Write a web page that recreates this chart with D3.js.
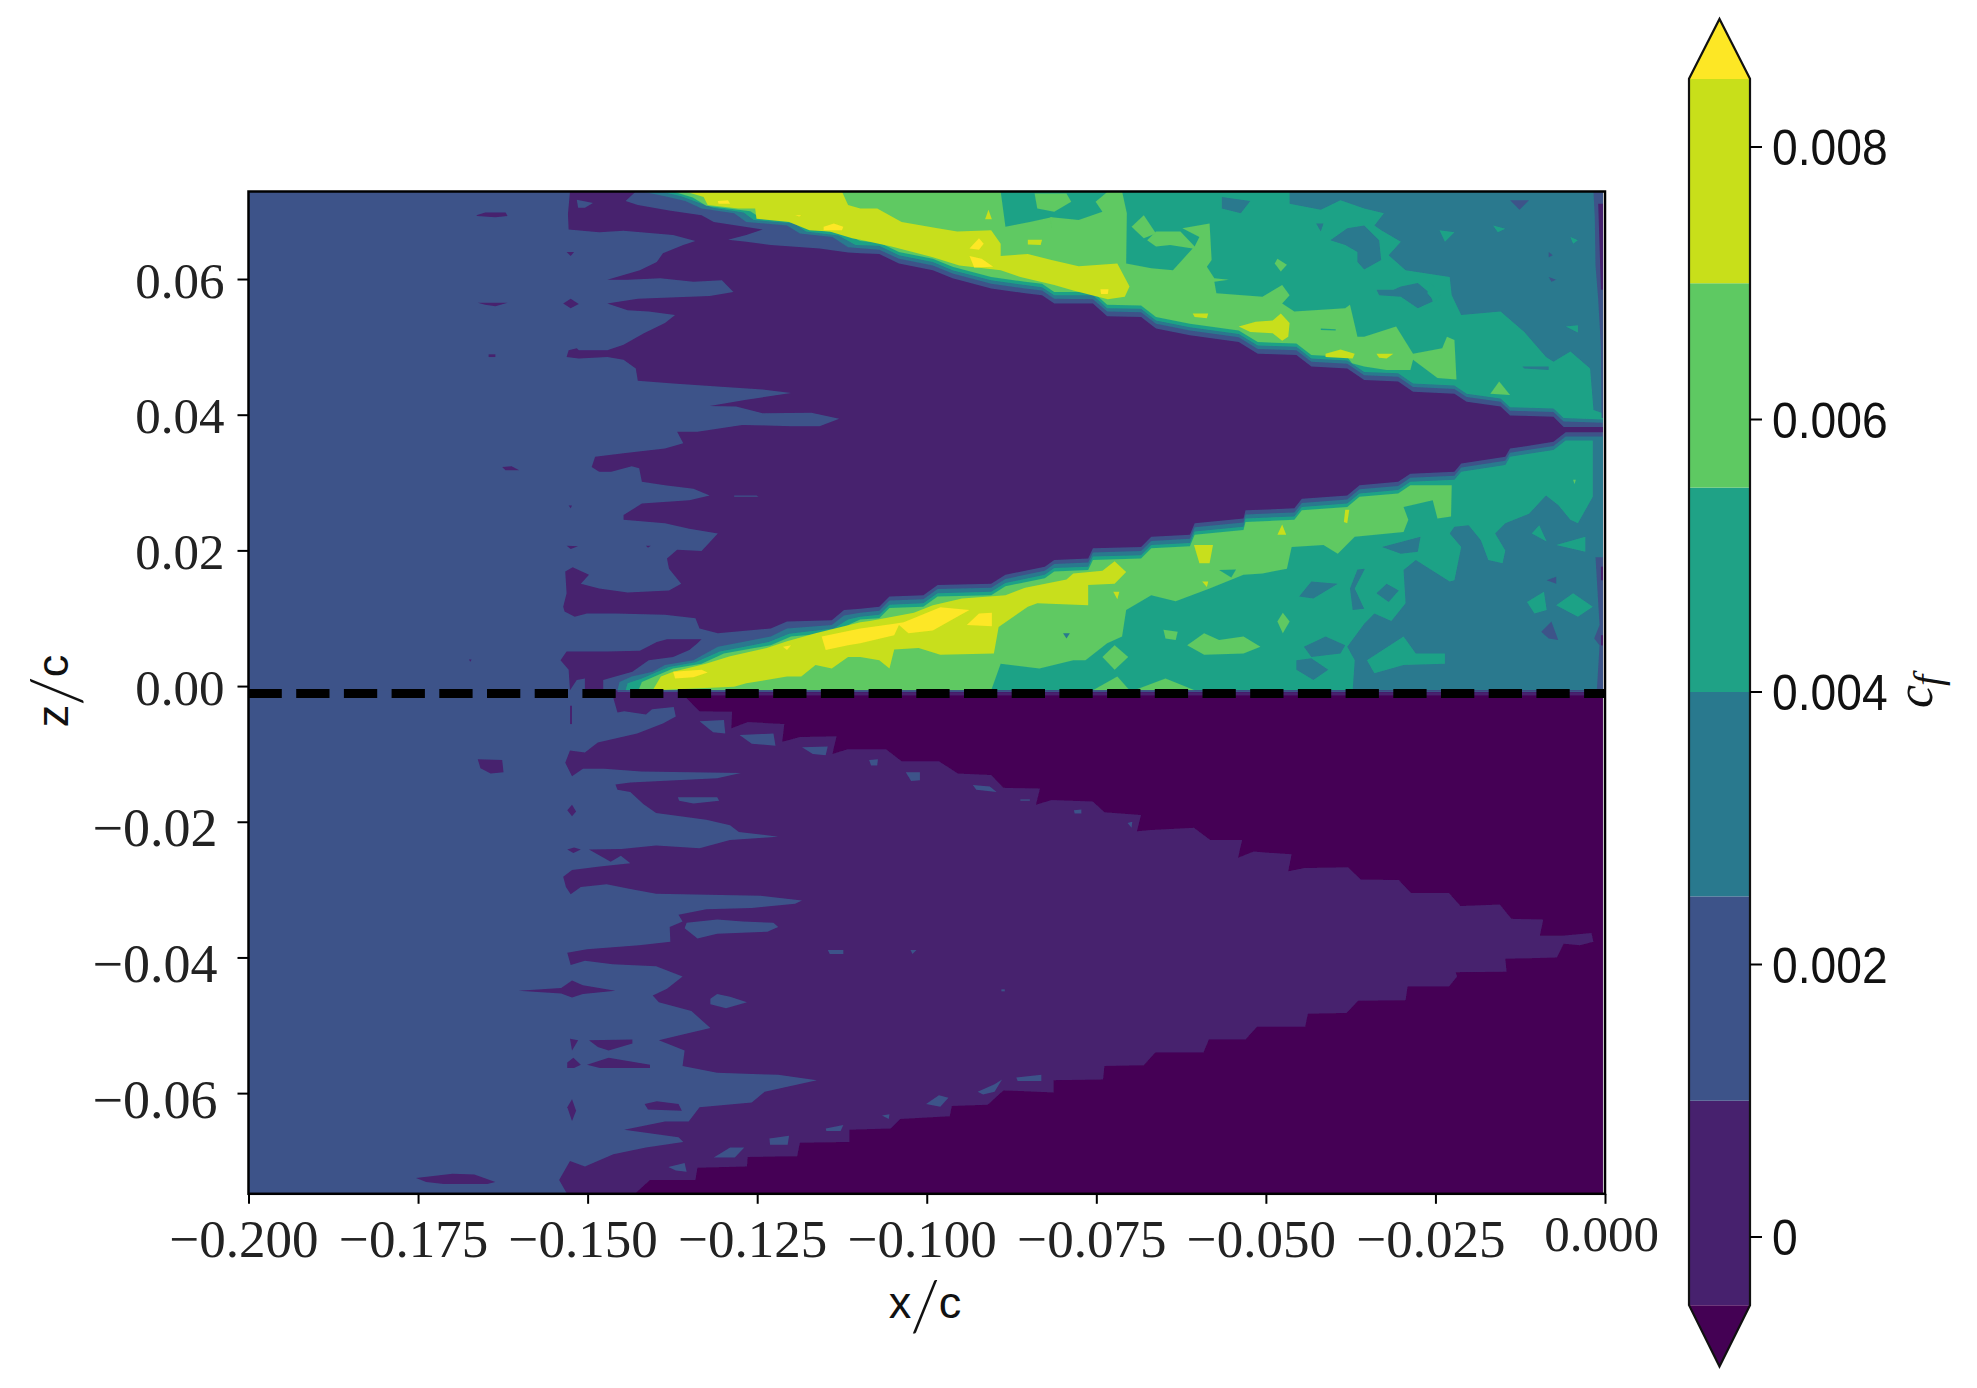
<!DOCTYPE html>
<html><head><meta charset="utf-8">
<script src="https://cdn.jsdelivr.net/npm/d3@7"></script>
<style>html,body{margin:0;padding:0;background:#fff}svg{display:block}</style>
</head><body><svg id="c" width="1977" height="1388"></svg>
<script>
const xTicks=[-0.2,-0.175,-0.15,-0.125,-0.1,-0.075,-0.05,-0.025,0];
const zTicks=[0.06,0.04,0.02,0,-0.02,-0.04,-0.06];
const levels=[-0.0005,0.001,0.0025,0.004,0.0055,0.007,0.0085];
const cbTicks=[0,0.002,0.004,0.006,0.008];
const cbTipLow=-0.00095, cbTipHigh=0.00894;
const COL={dark:"#440154",purple:"#47216e",blue:"#3d5389",teal:"#29798e",mint:"#1fa286",green:"#5ec962",lime:"#c8df1a",yellow:"#fde725"};
const bandColors=[COL.purple,COL.blue,COL.teal,COL.mint,COL.green,COL.lime];
const wallZ=-0.0011;

/* ===== lower half (z<0) ===== */
const lowerBase=[[-0.2,-0.0005],[-0.0003,-0.0005],[-0.0003,-0.0749],[-0.2,-0.0749]];
const lowerPurple=[[-.1462,-.0005],[-.1354,-.0005],[-.1354,-.0018],[-.1335,-.0037],[-.1287,-.0038],[-.1288,-.0062],[-.1264,-.0053],[-.1210,-.0056],[-.1213,-.0082],[-.1187,-.0075],[-.1133,-.0074],[-.1139,-.0100],[-.1117,-.0093],[-.1060,-.0093],[-.1037,-.0111],[-.0982,-.0111],[-.0954,-.0129],[-.0905,-.0131],[-.0887,-.0150],[-.0833,-.0151],[-.0839,-.0175],[-.0816,-.0168],[-.0755,-.0170],[-.0738,-.0186],[-.0684,-.0190],[-.0690,-.0214],[-.0670,-.0212],[-.0606,-.0209],[-.0582,-.0227],[-.0535,-.0227],[-.0541,-.0253],[-.0518,-.0244],[-.0462,-.0248],[-.0467,-.0273],[-.0443,-.0268],[-.0379,-.0267],[-.0360,-.0285],[-.0304,-.0286],[-.0286,-.0305],[-.0230,-.0305],[-.0213,-.0324],[-.0155,-.0322],[-.0138,-.0343],[-.0091,-.0344],[-.0096,-.0368],[-.0064,-.0368],[-.0020,-.0364],[-.0017,-.0377],[-.0037,-.0382],[-.0061,-.0380],[-.0071,-.0400],[-.0147,-.0402],[-.0145,-.0421],[-.0220,-.0422],[-.0218,-.0428],[-.0230,-.0443],[-.0291,-.0443],[-.0294,-.0463],[-.0364,-.0464],[-.0381,-.0482],[-.0438,-.0483],[-.0442,-.0502],[-.0513,-.0502],[-.0530,-.0521],[-.0584,-.0521],[-.0592,-.0540],[-.0663,-.0540],[-.0680,-.0559],[-.0738,-.0560],[-.0740,-.0580],[-.0813,-.0581],[-.0813,-.0599],[-.0887,-.0596],[-.0910,-.0617],[-.0963,-.0619],[-.0966,-.0634],[-.1039,-.0638],[-.1053,-.0652],[-.1114,-.0654],[-.1114,-.0672],[-.1187,-.0673],[-.1191,-.0693],[-.1264,-.0694],[-.1265,-.0708],[-.1338,-.0710],[-.1341,-.0728],[-.1408,-.0728],[-.1431,-.0749],[-.1560,-.0749],[-.1560,-.0005]];
const lowerBlueIslands=[
[[-.1367,-.0164],[-.1309,-.0164],[-.1306,-.0169],[-.1344,-.0173],[-.1365,-.0169]],
[[-.1354,-.0349],[-.1309,-.0344],[-.1271,-.0347],[-.1226,-.0349],[-.1219,-.0355],[-.1235,-.0362],[-.1309,-.0365],[-.1338,-.0372],[-.1357,-.0357]],
[[-.1146,-.0389],[-.1123,-.0389],[-.1123,-.0395],[-.1143,-.0395]],
[[-.1024,-.0389],[-.1015,-.0389],[-.1021,-.0395]],
[[-.1319,-.0461],[-.1309,-.0454],[-.1290,-.0458],[-.1265,-.0466],[-.1296,-.0475],[-.1319,-.0469]],
[[-.1335,-.0052],[-.1299,-.0050],[-.1297,-.0070],[-.1315,-.0068]],
[[-.1276,-.0072],[-.1226,-.0070],[-.1223,-.0088],[-.1258,-.0085]],
[[-.1184,-.0090],[-.1146,-.0089],[-.1149,-.0102],[-.1168,-.0100]],
[[-.1085,-.0109],[-.1072,-.0108],[-.1073,-.0117],[-.1082,-.0117]],
[[-.1031,-.0127],[-.1010,-.0127],[-.1010,-.0139],[-.1023,-.0140]],
[[-.1066,-.0633],[-.1055,-.0631],[-.1056,-.0638]],
[[-.1149,-.0652],[-.1123,-.0647],[-.1127,-.0656],[-.1148,-.0656]],
[[-.1232,-.0667],[-.1203,-.0663],[-.1205,-.0676],[-.1231,-.0676]],
[[-.1314,-.0695],[-.1290,-.0680],[-.1269,-.0680],[-.1283,-.0695]],
[[-.1381,-.0709],[-.1357,-.0703],[-.1354,-.0716],[-.1370,-.0714]],
[[-.0932,-.0146],[-.0907,-.0148],[-.0897,-.0156],[-.0927,-.0153]],
[[-.0862,-.0167],[-.0848,-.0167],[-.0848,-.0169],[-.0862,-.0169]],
[[-.0783,-.0183],[-.0772,-.0182],[-.0772,-.0188],[-.0782,-.0188]],
[[-.0704,-.0202],[-.0697,-.0200],[-.0698,-.0209]],
[[-.0890,-.0447],[-.0885,-.0447],[-.0885,-.0450],[-.0890,-.0450]],
[[-.1001,-.0616],[-.0982,-.0603],[-.0968,-.0607],[-.0980,-.0620]],
[[-.0925,-.0598],[-.0900,-.0587],[-.0889,-.0580],[-.0900,-.0598],[-.0917,-.0602]],
[[-.0868,-.0577],[-.0831,-.0573],[-.0831,-.0582],[-.0866,-.0582]]];
const lowerBlue=[[-.2,-.0005],[-.1462,-.0005],[-.1462,-.0018],[-.1456,-.0039],[-.1446,-.0037],[-.1414,-.0042],[-.1405,-.0034],[-.1373,-.0031],[-.1370,-.0045],[-.1389,-.0055],[-.1427,-.0070],[-.1485,-.0083],[-.1504,-.0098],[-.1526,-.0095],[-.1533,-.0113],[-.1523,-.0133],[-.1507,-.0122],[-.1475,-.0122],[-.1421,-.0126],[-.1274,-.0128],[-.1309,-.0136],[-.1392,-.0140],[-.1437,-.0142],[-.1459,-.0145],[-.1456,-.0153],[-.1437,-.0156],[-.1418,-.0174],[-.1399,-.0187],[-.1325,-.0197],[-.1290,-.0205],[-.1277,-.0215],[-.1219,-.0222],[-.1290,-.0227],[-.1335,-.0239],[-.1399,-.0235],[-.1450,-.0240],[-.1498,-.0241],[-.1466,-.0259],[-.1451,-.0250],[-.1437,-.0261],[-.1482,-.0266],[-.1523,-.0271],[-.1536,-.0281],[-.1532,-.0296],[-.1525,-.0307],[-.1510,-.0296],[-.1472,-.0292],[-.1437,-.0299],[-.1399,-.0306],[-.1245,-.0309],[-.1184,-.0316],[-.1194,-.0321],[-.1258,-.0327],[-.1325,-.0329],[-.1366,-.0337],[-.1360,-.0347],[-.1379,-.0355],[-.1378,-.0377],[-.1424,-.0382],[-.1501,-.0388],[-.1530,-.0393],[-.1525,-.0411],[-.1504,-.0405],[-.1463,-.0410],[-.1399,-.0413],[-.1360,-.0428],[-.1383,-.0446],[-.1404,-.0456],[-.1395,-.0466],[-.1347,-.0479],[-.1319,-.0504],[-.1366,-.0515],[-.1395,-.0522],[-.1357,-.0537],[-.1360,-.0560],[-.1309,-.0570],[-.1219,-.0573],[-.1162,-.0581],[-.1239,-.0598],[-.1258,-.0614],[-.1335,-.0621],[-.1351,-.0642],[-.1386,-.0642],[-.1446,-.0654],[-.1366,-.0665],[-.1359,-.0672],[-.1414,-.0680],[-.1462,-.0690],[-.1504,-.0708],[-.1526,-.0700],[-.1542,-.0728],[-.1530,-.0749],[-.2,-.0749]];
const lowerPurpleIslands=[
[[-.1662,-.0108],[-.1626,-.0109],[-.1624,-.0127],[-.1643,-.0129],[-.1658,-.0121]],
[[-.1530,-.0183],[-.1523,-.0175],[-.1517,-.0185],[-.1523,-.0192]],
[[-.1530,-.0241],[-.1520,-.0238],[-.1510,-.0241],[-.1521,-.0246]],
[[-.1526,-.0029],[-.1523,-.0029],[-.1523,-.0056],[-.1526,-.0056]],
[[-.1602,-.0449],[-.1539,-.0445],[-.1523,-.0434],[-.1507,-.0441],[-.1459,-.0449],[-.1507,-.0454],[-.1523,-.0459],[-.1539,-.0453]],
[[-.1526,-.0520],[-.1514,-.0522],[-.1523,-.0537]],
[[-.1498,-.0522],[-.1434,-.0521],[-.1434,-.0527],[-.1469,-.0537],[-.1485,-.0532]],
[[-.1530,-.0555],[-.1521,-.0548],[-.1510,-.0558],[-.1520,-.0563],[-.1530,-.0563]],
[[-.1501,-.0558],[-.1469,-.0548],[-.1408,-.0558],[-.1408,-.0563],[-.1482,-.0563]],
[[-.1530,-.0621],[-.1523,-.0609],[-.1517,-.0626],[-.1523,-.0641]],
[[-.1416,-.0616],[-.1398,-.0612],[-.1366,-.0616],[-.1361,-.0626],[-.1411,-.0624]],
[[-.1753,-.0725],[-.1699,-.0719],[-.1667,-.0720],[-.1636,-.0731],[-.1648,-.0734],[-.1712,-.0734],[-.1738,-.0731]]];

/* ===== upper half (z>0) ===== */
const upperBase=[[-0.2,0.0729],[-0.0003,0.0729],[-0.0003,-0.0006],[-0.2,-0.0006]];
const upperPurple=[[-.1526,.0729],[-.1429,.0729],[-.1444,.0715],[-.1426,.0709],[-.1380,.0701],[-.1332,.0694],[-.1314,.0684],[-.1242,.0673],[-.1266,.0665],[-.1293,.0658],[-.1266,.0655],[-.1230,.0650],[-.1158,.0645],[-.1116,.0639],[-.1098,.0638],[-.1070,.0637],[-.1041,.0623],[-.0991,.0613],[-.0962,.0601],[-.0905,.0586],[-.0855,.0579],[-.0830,.0576],[-.0812,.0564],[-.0755,.0564],[-.0734,.0545],[-.0684,.0544],[-.0662,.0527],[-.0612,.0517],[-.0540,.0507],[-.0512,.0490],[-.0455,.0488],[-.0433,.0471],[-.0380,.0468],[-.0355,.0451],[-.0305,.0449],[-.0283,.0434],[-.0222,.0431],[-.0204,.0419],[-.0154,.0412],[-.0140,.0399],[-.0076,.0397],[-.0061,.0382],[-.0003,.0382],[-.0003,.0374],[-.0058,.0374],[-.0076,.0360],[-.0140,.0350],[-.0147,.0338],[-.0212,.0328],[-.0222,.0316],[-.0287,.0313],[-.0305,.0301],[-.0362,.0296],[-.0380,.0281],[-.0447,.0276],[-.0458,.0262],[-.0530,.0259],[-.0533,.0247],[-.0605,.0240],[-.0612,.0223],[-.0669,.0220],[-.0684,.0205],[-.0755,.0203],[-.0762,.0188],[-.0812,.0186],[-.0826,.0176],[-.0884,.0164],[-.0905,.0151],[-.0984,.0149],[-.1005,.0134],[-.1055,.0132],[-.1070,.0117],[-.1098,.0114],[-.1122,.0112],[-.1140,.0097],[-.1206,.0095],[-.1230,.0085],[-.1308,.0078],[-.1335,.0085],[-.1341,.0100],[-.1386,.0105],[-.1459,.0107],[-.1501,.0107],[-.1519,.0102],[-.1534,.0110],[-.1536,.0117],[-.1531,.0137],[-.1533,.0169],[-.1522,.0175],[-.1498,.0164],[-.1510,.0151],[-.1483,.0144],[-.1441,.0138],[-.1380,.0141],[-.1362,.0151],[-.1380,.0173],[-.1383,.0188],[-.1368,.0201],[-.1332,.0199],[-.1308,.0225],[-.1350,.0232],[-.1386,.0240],[-.1447,.0245],[-.1447,.0252],[-.1420,.0269],[-.1350,.0274],[-.1320,.0281],[-.1344,.0291],[-.1386,.0296],[-.1420,.0301],[-.1424,.0321],[-.1435,.0324],[-.1465,.0316],[-.1483,.0316],[-.1494,.0323],[-.1489,.0338],[-.1447,.0343],[-.1386,.0350],[-.1359,.0358],[-.1368,.0375],[-.1338,.0375],[-.1272,.0385],[-.1200,.0383],[-.1158,.0383],[-.1129,.0394],[-.1170,.0403],[-.1242,.0402],[-.1281,.0412],[-.1320,.0413],[-.1266,.0422],[-.1200,.0432],[-.1242,.0437],[-.1314,.0442],[-.1374,.0446],[-.1426,.0450],[-.1429,.0468],[-.1447,.0481],[-.1471,.0485],[-.1513,.0483],[-.1531,.0485],[-.1528,.0495],[-.1516,.0498],[-.1513,.0495],[-.1471,.0495],[-.1447,.0503],[-.1417,.0520],[-.1386,.0535],[-.1371,.0547],[-.1410,.0552],[-.1441,.0554],[-.1471,.0564],[-.1426,.0571],[-.1320,.0575],[-.1285,.0581],[-.1302,.0598],[-.1344,.0596],[-.1393,.0601],[-.1441,.0599],[-.1471,.0599],[-.1423,.0613],[-.1398,.0625],[-.1389,.0638],[-.1359,.0650],[-.1341,.0656],[-.1374,.0665],[-.1447,.0671],[-.1483,.0669],[-.1528,.0673],[-.1529,.0696]];
const upperPurpleFinger=[[-.1332,.0069],[-.1383,.0069],[-.1398,.0065],[-.1423,.0052],[-.1471,.0051],[-.1531,.0051],[-.1540,.0038],[-.1528,.0024],[-.1526,-.0006],[-.1516,.0009],[-.1504,.0011],[-.1504,-.0006],[-.1477,-.0006],[-.1477,.0009],[-.1459,.0014],[-.1434,.0021],[-.1410,.0038],[-.1374,.0043],[-.1350,.0053],[-.1338,.0063]];
const upperPurpleIslands=[
[[-.1664,.0694],[-.1651,.0698],[-.1621,.0698],[-.1618,.0693],[-.1636,.0691],[-.1663,.0693]],
[[-.1662,.0565],[-.1618,.0565],[-.1636,.0560],[-.1651,.0562]],
[[-.1531,.0640],[-.1520,.0640],[-.1525,.0634]],
[[-.1536,.0564],[-.1525,.0571],[-.1513,.0563],[-.1525,.0557]],
[[-.1646,.0489],[-.1636,.0489],[-.1636,.0485],[-.1646,.0485]],
[[-.1626,.0323],[-.1612,.0324],[-.1601,.0318],[-.1621,.0318]],
[[-.1528,.0266],[-.1523,.0266],[-.1525,.0262]],
[[-.1531,.0207],[-.1514,.0206],[-.1525,.0202]],
[[-.1414,.0207],[-.1407,.0207],[-.1411,.0204]],
[[-.1675,.0039],[-.1671,.0039],[-.1673,.0036]]];
const upperBlueIslands=[
[[-.1516,.0717],[-.1492,.0712],[-.1504,.0705],[-.1514,.0705]],
[[-.1284,.0281],[-.1251,.0281],[-.1248,.0279],[-.1284,.0279]]];

/* upper wedge, side above the purple core */
const topTeal=[[-.1420,.0729],[-.1386,.0722],[-.1356,.0715],[-.1332,.0704],[-.1284,.0697],[-.1266,.0684],[-.1206,.0679],[-.1187,.0667],[-.1139,.0662],[-.1116,.0647],[-.1070,.0643],[-.1041,.0630],[-.0991,.0620],[-.0962,.0608],[-.0905,.0593],[-.0855,.0586],[-.0830,.0583],[-.0812,.0571],[-.0755,.0570],[-.0734,.0552],[-.0684,.0551],[-.0662,.0534],[-.0612,.0524],[-.0540,.0514],[-.0512,.0497],[-.0455,.0495],[-.0433,.0478],[-.0380,.0475],[-.0355,.0458],[-.0305,.0456],[-.0283,.0441],[-.0222,.0438],[-.0204,.0426],[-.0154,.0419],[-.0140,.0406],[-.0076,.0404],[-.0061,.0390],[-.0003,.0388],[-.0003,.0729]];
const topMint=[[-.1392,.0729],[-.1362,.0722],[-.1335,.0712],[-.1315,.0705],[-.1270,.0698],[-.1255,.0687],[-.1195,.0682],[-.1178,.0670],[-.1130,.0664],[-.1105,.0650],[-.1070,.0649],[-.1041,.0635],[-.0991,.0625],[-.0962,.0613],[-.0905,.0598],[-.0855,.0591],[-.0830,.0588],[-.0812,.0576],[-.0755,.0576],[-.0734,.0557],[-.0684,.0556],[-.0662,.0539],[-.0612,.0529],[-.0540,.0519],[-.0512,.0502],[-.0455,.0500],[-.0433,.0483],[-.0380,.0480],[-.0355,.0463],[-.0305,.0461],[-.0283,.0446],[-.0222,.0443],[-.0204,.0431],[-.0154,.0424],[-.0140,.0411],[-.0076,.0409],[-.0061,.0395],[-.0003,.0393],[-.0003,.0402],[-.0017,.0407],[-.0022,.0468],[-.0051,.0493],[-.0076,.0478],[-.0087,.0485],[-.0119,.0522],[-.0154,.0552],[-.0212,.0547],[-.0226,.0576],[-.0229,.0603],[-.0294,.0613],[-.0319,.0635],[-.0301,.0655],[-.0330,.0672],[-.0340,.0679],[-.0326,.0697],[-.0355,.0704],[-.0390,.0716],[-.0419,.0702],[-.0465,.0711],[-.0465,.0729]];
const topGreen=[[-.1374,.0729],[-.1345,.0720],[-.1325,.0708],[-.1260,.0700],[-.1245,.0690],[-.1185,.0685],[-.1170,.0673],[-.1120,.0667],[-.1098,.0656],[-.1070,.0654],[-.1041,.0640],[-.0991,.0630],[-.0962,.0618],[-.0905,.0603],[-.0855,.0596],[-.0830,.0593],[-.0812,.0581],[-.0755,.0581],[-.0734,.0562],[-.0684,.0561],[-.0662,.0544],[-.0612,.0534],[-.0540,.0524],[-.0512,.0507],[-.0455,.0505],[-.0433,.0488],[-.0380,.0485],[-.0373,.0476],[-.0355,.0471],[-.0322,.0466],[-.0287,.0466],[-.0283,.0481],[-.0247,.0454],[-.0219,.0452],[-.0222,.0510],[-.0233,.0515],[-.0240,.0498],[-.0283,.0490],[-.0308,.0530],[-.0355,.0515],[-.0365,.0515],[-.0376,.0562],[-.0383,.0557],[-.0458,.0552],[-.0476,.0564],[-.0465,.0576],[-.0476,.0591],[-.0505,.0574],[-.0573,.0579],[-.0576,.0596],[-.0555,.0599],[-.0576,.0601],[-.0587,.0618],[-.0580,.0628],[-.0583,.0682],[-.0623,.0675],[-.0598,.0662],[-.0605,.0648],[-.0626,.0670],[-.0662,.0670],[-.0675,.0657],[-.0662,.0648],[-.0641,.0650],[-.0608,.0645],[-.0619,.0633],[-.0637,.0613],[-.0669,.0616],[-.0706,.0623],[-.0705,.0697],[-.0712,.0729],[-.0733,.0729],[-.0751,.0714],[-.0741,.0699],[-.0776,.0687],[-.0816,.0691],[-.0848,.0684],[-.0884,.0677],[-.0891,.0729]];
const topLime=[[-.1356,.0729],[-.1329,.0721],[-.1323,.0709],[-.1278,.0704],[-.1253,.0704],[-.1251,.0689],[-.1203,.0684],[-.1173,.0672],[-.1143,.0670],[-.1110,.0660],[-.1098,.0658],[-.1052,.0648],[-.0991,.0632],[-.0952,.0620],[-.0891,.0613],[-.0862,.0603],[-.0812,.0591],[-.0784,.0583],[-.0733,.0570],[-.0708,.0574],[-.0701,.0589],[-.0719,.0623],[-.0776,.0619],[-.0816,.0628],[-.0851,.0637],[-.0891,.0634],[-.0891,.0652],[-.0905,.0672],[-.0955,.0670],[-.0984,.0675],[-.1037,.0684],[-.1073,.0704],[-.1098,.0704],[-.1116,.0709],[-.1125,.0729]];
const topTealIslands=[
[[-.0565,.0721],[-.0523,.0715],[-.0537,.0697],[-.0565,.0704]],
[[-.0405,.0657],[-.0380,.0675],[-.0355,.0679],[-.0333,.0657],[-.0330,.0628],[-.0355,.0614],[-.0365,.0625],[-.0365,.0640],[-.0383,.0650]],
[[-.0426,.0682],[-.0415,.0682],[-.0419,.0670]],
[[-.0337,.0584],[-.0312,.0584],[-.0301,.0589],[-.0276,.0594],[-.0258,.0579],[-.0254,.0567],[-.0276,.0557],[-.0301,.0574],[-.0333,.0576]],
[[-.0122,.0471],[-.0083,.0471],[-.0083,.0466],[-.0119,.0468]]];
const topMintIslands=[
[[-.0244,.0672],[-.0222,.0669],[-.0236,.0655]],
[[-.0165,.0679],[-.0147,.0674],[-.0158,.0669]],
[[-.0051,.0662],[-.0040,.0657],[-.0047,.0652]],
[[-.0058,.0530],[-.0040,.0532],[-.0040,.0521]],
[[-.0258,.0594],[-.0240,.0579],[-.0251,.0567],[-.0262,.0579]]];
const topMintInGreen=[[[-.0419,.0527],[-.0397,.0526],[-.0397,.0524],[-.0419,.0525]]];
const topBlueIslands=[
[[-.0140,.0716],[-.0112,.0716],[-.0126,.0702]],
[[-.0083,.0640],[-.0077,.0635],[-.0083,.0632]],
[[-.0083,.0603],[-.0072,.0599],[-.0079,.0596]]];
const topGreenIslands=[
[[-.0841,.0726],[-.0794,.0726],[-.0787,.0714],[-.0812,.0699],[-.0837,.0704]],
[[-.0818,.0691],[-.0815,.0691],[-.0816,.0676]],
[[-.0698,.0677],[-.0680,.0694],[-.0662,.0667],[-.0680,.0660]],
[[-.0483,.0630],[-.0469,.0621],[-.0478,.0611],[-.0487,.0623]],
[[-.0169,.0431],[-.0156,.0449],[-.0140,.0429]]];
const topLimeIslands=[
[[-.0909,.0702],[-.0904,.0688],[-.0914,.0688]],
[[-.0851,.0658],[-.0830,.0658],[-.0832,.0650],[-.0851,.0651]],
[[-.0608,.0549],[-.0585,.0549],[-.0587,.0542],[-.0605,.0544]],
[[-.0540,.0530],[-.0515,.0537],[-.0490,.0539],[-.0478,.0549],[-.0465,.0535],[-.0467,.0515],[-.0476,.0509],[-.0490,.0520],[-.0523,.0522]],
[[-.0412,.0490],[-.0390,.0496],[-.0369,.0490],[-.0372,.0483],[-.0412,.0485]],
[[-.0337,.0490],[-.0312,.0490],[-.0322,.0483],[-.0333,.0484]]];
const topYellowIslands=[
[[-.1308,.0715],[-.1293,.0716],[-.1290,.0711],[-.1307,.0711]],
[[-.1194,.0694],[-.1185,.0694],[-.1188,.0692]],
[[-.1152,.0677],[-.1137,.0682],[-.1123,.0677],[-.1125,.0672],[-.1152,.0672]],
[[-.0937,.0645],[-.0923,.0660],[-.0916,.0652],[-.0923,.0643]],
[[-.0937,.0634],[-.0919,.0630],[-.0902,.0618],[-.0930,.0617]],
[[-.0744,.0585],[-.0732,.0585],[-.0733,.0578],[-.0743,.0578]]];
const rightBlueTop=[[-.0017,.0729],[-.0003,.0729],[-.0003,.0395],[-.0005,.0395],[-.0006,.0500],[-.0010,.0570],[-.0014,.0620],[-.0015,.0690]];
const rightPurpleTop=[[-.0010,.0711],[-.0003,.0711],[-.0003,.0584],[-.0006,.0584]];

/* upper wedge, side below the purple core */
const botTeal=[[-.1456,-.0006],[-.1453,.0006],[-.1435,.0014],[-.1404,.0021],[-.1386,.0031],[-.1344,.0038],[-.1308,.0058],[-.1230,.0073],[-.1206,.0085],[-.1140,.0090],[-.1122,.0104],[-.1098,.0108],[-.1070,.0111],[-.1055,.0126],[-.1005,.0128],[-.0984,.0143],[-.0905,.0145],[-.0884,.0158],[-.0826,.0170],[-.0812,.0180],[-.0762,.0182],[-.0755,.0197],[-.0684,.0199],[-.0669,.0214],[-.0612,.0217],[-.0605,.0234],[-.0533,.0241],[-.0530,.0253],[-.0458,.0256],[-.0447,.0270],[-.0380,.0275],[-.0362,.0290],[-.0305,.0295],[-.0287,.0307],[-.0222,.0310],[-.0212,.0322],[-.0147,.0332],[-.0140,.0344],[-.0076,.0354],[-.0058,.0368],[-.0003,.0368],[-.0003,-.0006]];
const botMint=[[-.1444,-.0006],[-.1441,.0004],[-.1420,.0011],[-.1402,.0019],[-.1380,.0028],[-.1341,.0035],[-.1305,.0051],[-.1257,.0060],[-.1233,.0065],[-.1203,.0077],[-.1137,.0085],[-.1116,.0098],[-.1098,.0102],[-.1070,.0105],[-.1055,.0120],[-.1005,.0122],[-.0984,.0137],[-.0905,.0139],[-.0884,.0152],[-.0826,.0164],[-.0812,.0174],[-.0762,.0176],[-.0755,.0191],[-.0684,.0193],[-.0669,.0208],[-.0612,.0211],[-.0605,.0228],[-.0533,.0235],[-.0530,.0247],[-.0458,.0250],[-.0447,.0264],[-.0380,.0269],[-.0362,.0284],[-.0305,.0289],[-.0287,.0301],[-.0222,.0304],[-.0212,.0316],[-.0147,.0326],[-.0140,.0338],[-.0076,.0348],[-.0058,.0362],[-.0018,.0362],[-.0018,.0279],[-.0040,.0240],[-.0051,.0245],[-.0069,.0267],[-.0087,.0281],[-.0112,.0254],[-.0147,.0240],[-.0162,.0225],[-.0147,.0200],[-.0151,.0181],[-.0172,.0186],[-.0183,.0215],[-.0201,.0237],[-.0222,.0235],[-.0229,.0225],[-.0212,.0205],[-.0222,.0156],[-.0229,.0154],[-.0279,.0186],[-.0297,.0171],[-.0294,.0122],[-.0315,.0096],[-.0340,.0107],[-.0355,.0092],[-.0380,.0058],[-.0369,.0038],[-.0372,-.0006]];
const botGreen=[[-.1425,-.0006],[-.1420,.0006],[-.1392,.0018],[-.1374,.0026],[-.1332,.0033],[-.1299,.0048],[-.1254,.0056],[-.1230,.0060],[-.1200,.0073],[-.1134,.0079],[-.1112,.0092],[-.1098,.0098],[-.1070,.0100],[-.1055,.0115],[-.1005,.0117],[-.0984,.0132],[-.0905,.0134],[-.0884,.0147],[-.0826,.0159],[-.0812,.0169],[-.0762,.0171],[-.0755,.0186],[-.0684,.0188],[-.0669,.0203],[-.0612,.0206],[-.0605,.0223],[-.0533,.0230],[-.0530,.0242],[-.0458,.0245],[-.0447,.0259],[-.0380,.0264],[-.0362,.0279],[-.0305,.0284],[-.0287,.0296],[-.0226,.0296],[-.0227,.0250],[-.0247,.0247],[-.0254,.0274],[-.0297,.0264],[-.0290,.0245],[-.0297,.0227],[-.0369,.0220],[-.0394,.0195],[-.0415,.0208],[-.0462,.0205],[-.0469,.0173],[-.0505,.0166],[-.0533,.0164],[-.0583,.0144],[-.0633,.0125],[-.0669,.0134],[-.0706,.0112],[-.0712,.0073],[-.0734,.0063],[-.0766,.0038],[-.0784,.0038],[-.0834,.0026],[-.0891,.0033],[-.0905,-.0006]];
const botLime=[[-.1404,-.0006],[-.1284,-.0001],[-.1266,.0004],[-.1206,.0014],[-.1185,.0014],[-.1164,.0031],[-.1140,.0026],[-.1116,.0043],[-.1098,.0043],[-.1070,.0038],[-.1055,.0026],[-.1048,.0054],[-.1012,.0056],[-.0980,.0046],[-.0901,.0048],[-.0894,.0087],[-.0851,.0117],[-.0837,.0122],[-.0762,.0119],[-.0762,.0149],[-.0723,.0151],[-.0706,.0168],[-.0723,.0184],[-.0741,.0170],[-.0784,.0166],[-.0794,.0157],[-.0855,.0145],[-.0884,.0134],[-.0948,.0129],[-.0991,.0119],[-.1019,.0108],[-.1084,.0096],[-.1098,.0094],[-.1122,.0088],[-.1164,.0078],[-.1206,.0066],[-.1236,.0056],[-.1290,.0044],[-.1326,.0033],[-.1374,.0021],[-.1392,.0014]];
const botTealIslands=[
[[-.0329,.0205],[-.0272,.0220],[-.0276,.0198],[-.0301,.0195]],
[[-.0365,.0172],[-.0354,.0173],[-.0369,.0144],[-.0355,.0114],[-.0372,.0112],[-.0376,.0144]],
[[-.0451,.0132],[-.0433,.0154],[-.0394,.0151],[-.0430,.0129]],
[[-.0444,.0058],[-.0412,.0073],[-.0383,.0060],[-.0390,.0048],[-.0433,.0043]],
[[-.0455,.0038],[-.0433,.0041],[-.0408,.0024],[-.0430,.0009],[-.0455,.0024]],
[[-.0337,.0137],[-.0322,.0151],[-.0304,.0141],[-.0319,.0124]],
[[-.0799,.0078],[-.0789,.0078],[-.0794,.0070]]];
const botMintIslands=[
[[-.0351,.0038],[-.0297,.0073],[-.0279,.0048],[-.0236,.0048],[-.0236,.0033],[-.0297,.0031],[-.0340,.0019]],
[[-.0115,.0124],[-.0090,.0139],[-.0086,.0112],[-.0104,.0107]],
[[-.0072,.0119],[-.0047,.0137],[-.0018,.0117],[-.0040,.0102]],
[[-.0108,.0225],[-.0097,.0237],[-.0086,.0213]],
[[-.0072,.0208],[-.0029,.0220],[-.0029,.0198]],
[[-.0569,.0171],[-.0544,.0172],[-.0551,.0160]]];
const botBlueIslands=[
[[-.0086,.0156],[-.0072,.0161],[-.0072,.0151]],
[[-.0094,.0080],[-.0079,.0095],[-.0069,.0068],[-.0083,.0070]]];
const botGreenIslands=[
[[-.0741,.0043],[-.0723,.0060],[-.0703,.0043],[-.0723,.0024]],
[[-.0755,-.0006],[-.0719,.0014],[-.0701,-.0006]],
[[-.0694,-.0006],[-.0648,.0011],[-.0605,-.0006]],
[[-.0616,.0060],[-.0591,.0078],[-.0569,.0068],[-.0533,.0073],[-.0508,.0058],[-.0533,.0048],[-.0591,.0046]],
[[-.0651,.0083],[-.0630,.0080],[-.0633,.0068],[-.0648,.0070]],
[[-.0483,.0095],[-.0475,.0108],[-.0465,.0095],[-.0475,.0078]],
[[-.0047,.0304],[-.0043,.0304],[-.0045,.0298]]];
const botLimeIslands=[
[[-.0606,.0208],[-.0578,.0208],[-.0583,.0181],[-.0598,.0181]],
[[-.0483,.0223],[-.0476,.0238],[-.0470,.0223]],
[[-.0383,.0260],[-.0377,.0260],[-.0380,.0240],[-.0385,.0242]],
[[-.0594,.0154],[-.0585,.0154],[-.0587,.0146]],
[[-.0725,.0139],[-.0716,.0139],[-.0719,.0128]]];
const botYellowIslands=[
[[-.1155,.0073],[-.1098,.0085],[-.1048,.0092],[-.1034,.0094],[-.0980,.0116],[-.0937,.0112],[-.0955,.0102],[-.0991,.0082],[-.1027,.0078],[-.1041,.0090],[-.1048,.0075],[-.1098,.0063],[-.1116,.0060],[-.1149,.0053]],
[[-.0941,.0090],[-.0923,.0107],[-.0904,.0108],[-.0904,.0088]],
[[-.1374,.0021],[-.1332,.0024],[-.1323,.0020],[-.1344,.0013],[-.1371,.0011]],
[[-.1212,.0058],[-.1200,.0060],[-.1206,.0053]]];
const rightBlueBot=[[-.0014,.0190],[-.0003,.0190],[-.0003,-.0006],[-.0012,-.0006],[-.0008,.0060],[-.0016,.0070],[-.0008,.0090]];
const rightPurpleBot=[[[-.0006,.0176],[-.0003,.0176],[-.0003,.0156],[-.0006,.0156]],[[-.0006,.0075],[-.0003,.0075],[-.0003,.0060],[-.0006,.0060]]];
const wallBlue=[[-.1456,-.0006],[-.0003,-.0006],[-.0003,-.0009],[-.1456,-.0009]];
const wallPurple=[[-.1456,-.0009],[-.0003,-.0009],[-.0003,-.0014],[-.1456,-.0014]];

const layers=[
 [COL.dark,[lowerBase]],[COL.purple,[lowerPurple]],[COL.blue,lowerBlueIslands],[COL.blue,[lowerBlue]],[COL.purple,lowerPurpleIslands],
 [COL.blue,[upperBase]],[COL.purple,[upperPurple,upperPurpleFinger]],[COL.purple,upperPurpleIslands],[COL.blue,upperBlueIslands],
 [COL.teal,[topTeal,botTeal]],[COL.mint,[topMint,botMint]],
 [COL.teal,topTealIslands],[COL.teal,botTealIslands.slice(0,6)],
 [COL.mint,topMintIslands],[COL.mint,botMintIslands.slice(0,5)],[COL.blue,topBlueIslands],[COL.blue,botBlueIslands],
 [COL.green,[topGreen,botGreen]],[COL.green,topGreenIslands],[COL.green,botGreenIslands],
 [COL.mint,topMintInGreen],[COL.mint,[botMintIslands[5]]],[COL.teal,[botTealIslands[6]]],
 [COL.lime,[topLime,botLime]],[COL.lime,topLimeIslands],[COL.lime,botLimeIslands],
 [COL.yellow,topYellowIslands],[COL.yellow,botYellowIslands],
 [COL.blue,[rightBlueTop,rightBlueBot]],[COL.purple,[rightPurpleTop]],[COL.purple,rightPurpleBot],
 [COL.blue,[wallBlue]],[COL.purple,[wallPurple]]
];

const svg=d3.select("#c");
const L=248.5,R=1605,T=191.5,B=1193.8;
const x=d3.scaleLinear().domain([-0.2,0]).range([L,R]);
const z=d3.scaleLinear().domain([0.0729,-0.07484]).range([T,B]);
const path=d3.line().x(d=>x(d[0])).y(d=>z(d[1])).curve(d3.curveLinearClosed);
const defs=svg.append("defs");
defs.append("clipPath").attr("id","ax").append("rect").attr("x",L).attr("y",T).attr("width",R-L).attr("height",B-T);
defs.append("filter").attr("id","soft").attr("x",0).attr("y",0).attr("width",1).attr("height",1)
  .append("feGaussianBlur").attr("stdDeviation",0.7);
const plot=svg.append("g").attr("clip-path","url(#ax)").append("g").attr("filter","url(#soft)");
layers.forEach(([col,polys])=>{
  plot.append("g").selectAll("path").data(polys).join("path").attr("d",path).attr("fill",col);
});
svg.append("line").attr("x1",x(-0.2)).attr("x2",x(0)).attr("y1",z(wallZ)).attr("y2",z(wallZ))
  .attr("stroke","#000").attr("stroke-width",9).attr("stroke-dasharray","33.3,14.4");

svg.append("rect").attr("x",L).attr("y",T).attr("width",R-L).attr("height",B-T)
  .attr("fill","none").attr("stroke","#000").attr("stroke-width",2.5);

const serif="'Liberation Serif',serif", sans="'Liberation Sans',sans-serif";
const fmt=(v,d)=>(v<0?"\u2212":"")+Math.abs(v).toFixed(d);
const gx=svg.append("g").attr("transform",`translate(0,${B})`)
  .call(d3.axisBottom(x).tickValues(xTicks).tickSize(10).tickFormat(d=>fmt(d,3)));
const gz=svg.append("g").attr("transform",`translate(${L},0)`)
  .call(d3.axisLeft(z).tickValues(zTicks).tickSize(11).tickFormat(d=>fmt(d,2)));
[gx,gz].forEach(g=>{g.select(".domain").remove();g.selectAll(".tick line").attr("stroke","#000").attr("stroke-width",2);});
gx.selectAll(".tick text").attr("font-family",serif).attr("font-size",d=>d<0?53:51).attr("fill","#222")
  .attr("text-anchor","middle").attr("dy",null).attr("x",d=>d<0?-5:-4).attr("y",d=>d<0?63:57);
gz.selectAll(".tick text").attr("font-family",serif).attr("font-size",d=>d<0?54:51).attr("fill","#222")
  .attr("text-anchor","end").attr("dy",null).attr("x",d=>d<0?-31:-24).attr("y",d=>d<0?24:18);

function slashLabel(sel,a,b){
  sel.attr("font-family",sans).attr("font-size",45).attr("fill","#111").attr("text-anchor","middle");
  sel.append("tspan").text(a);
  sel.append("tspan").attr("font-family","Lato,sans-serif").attr("font-weight",300).attr("font-size",68).attr("dy",12).attr("dx",-1).text("/");
  sel.append("tspan").attr("dy",-12).attr("dx",-1).text(b);
}
svg.append("text").attr("x",925).attr("y",1318).call(slashLabel,"x","c");
svg.append("text").attr("transform","translate(68,691) rotate(-90)").call(slashLabel,"z","c");

/* colour bar */
const cb=d3.scaleLinear().domain([0,0.008]).range([1237,147]);
const cbL=1689,cbR=1750,cbM=(cbL+cbR)/2;
const cbg=svg.append("g");
cbg.selectAll("rect").data(d3.pairs(levels)).join("rect")
  .attr("x",cbL).attr("width",cbR-cbL).attr("y",d=>cb(d[1])).attr("height",d=>cb(d[0])-cb(d[1]))
  .attr("fill",(d,i)=>bandColors[i]);
cbg.append("path").attr("fill",COL.yellow).attr("d",`M${cbL},${cb(levels[6])}L${cbM},${cb(cbTipHigh)}L${cbR},${cb(levels[6])}Z`);
cbg.append("path").attr("fill",COL.dark).attr("d",`M${cbL},${cb(levels[0])}L${cbM},${cb(cbTipLow)}L${cbR},${cb(levels[0])}Z`);
cbg.append("path").attr("fill","none").attr("stroke","#111").attr("stroke-width",2.2).attr("stroke-linejoin","miter")
  .attr("d",`M${cbL},${cb(levels[0])}L${cbM},${cb(cbTipLow)}L${cbR},${cb(levels[0])}L${cbR},${cb(levels[6])}L${cbM},${cb(cbTipHigh)}L${cbL},${cb(levels[6])}Z`);
const cbT=svg.append("g").selectAll("g").data(cbTicks).join("g").attr("transform",d=>`translate(${cbR},${cb(d)})`);
cbT.append("line").attr("x1",0).attr("x2",12).attr("stroke","#000").attr("stroke-width",2);
cbT.append("text").attr("transform","translate(22,18) scale(.925,1)").attr("font-family",sans).attr("font-size",50).attr("fill","#111")
  .text(d=>d===0?"0":d.toFixed(3));
const cf=svg.append("text").attr("transform","translate(1932,708) rotate(-90)")
  .attr("font-family",serif).attr("font-style","italic").attr("font-size",52).attr("fill","#111");
cf.append("tspan").text("c");
cf.append("tspan").attr("font-size",40).attr("dy",9).attr("dx",-1).text("f");
</script></body></html>
